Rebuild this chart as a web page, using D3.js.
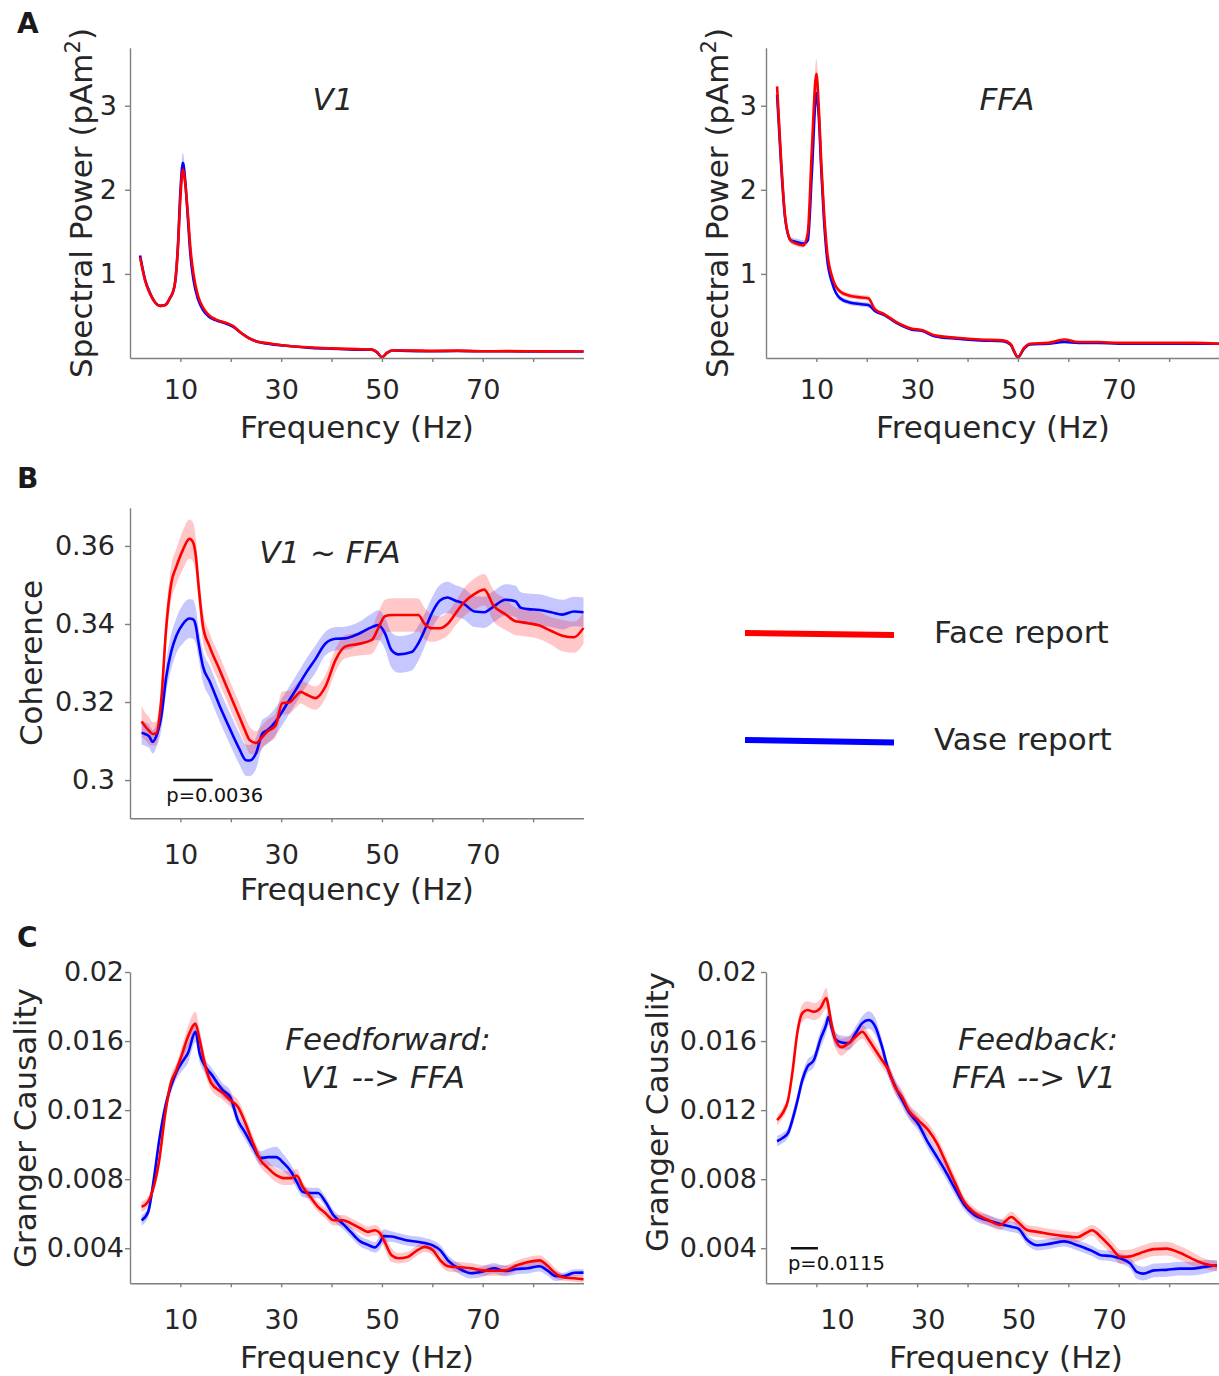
<!DOCTYPE html>
<html>
<head>
<meta charset="utf-8">
<script src="https://cdn.jsdelivr.net/npm/d3@7"></script>
<style>
  body { margin: 0; background: #fff; }
  svg { display: block; font-family: "DejaVu Sans", Verdana, sans-serif; }
  .axis path, .axis line { stroke: #7f7f7f; stroke-width: 1.4; }
  .axis text { fill: #262626; font-size: 27px; font-family: "DejaVu Sans", Verdana, sans-serif; }
</style>
</head>
<body>
<div id="chart"></div>
<script>
// ---- A: spectral power, V1 ----
const freqA1 = [2,3,4,5,6,7,8, 8.5,9,9.5,10,10.5,11,11.5,12, 12.6,13.5,14.5,15.5,17,19,20.5,22,23.5,25,
  28,32,36,40,45,48,49,50,51,52, 55,60,65,70,75,80,85,90];
const faceA1 = [1.20,0.92,0.76,0.66,0.62,0.63,0.72, 0.78,0.92,1.30,1.90,2.24,2.05,1.70,1.30,
  1.00,0.74,0.60,0.52,0.46,0.42,0.38,0.30,0.24,0.20, 0.17,0.14,0.125,0.115,0.105,0.10,0.07,0.01,0.06,0.09,
  0.09,0.085,0.088,0.08,0.082,0.08,0.077,0.077];
const vaseA1 = [1.22,0.93,0.77,0.66,0.62,0.63,0.72, 0.78,0.92,1.32,1.98,2.32,2.08,1.65,1.22,
  0.93,0.70,0.57,0.50,0.45,0.41,0.37,0.30,0.24,0.20, 0.165,0.14,0.12,0.11,0.10,0.10,0.07,0.01,0.06,0.09,
  0.085,0.08,0.083,0.08,0.08,0.078,0.077,0.077];
const faceSemA1 = [0.02,0.015,0.012,0.01,0.01,0.01,0.012, 0.015,0.02,0.04,0.06,0.08,0.07,0.05,0.04,
  0.03,0.02,0.015,0.012,0.01,0.01,0.01,0.008,0.008,0.007, 0.006,0.005,0.005,0.005,0.005,0.005,0.005,0.005,0.005,0.005,
  0.005,0.005,0.005,0.005,0.005,0.005,0.005,0.005];
const vaseSemA1 = [0.02,0.015,0.012,0.01,0.01,0.01,0.012, 0.015,0.02,0.05,0.09,0.12,0.09,0.06,0.04,
  0.03,0.02,0.015,0.012,0.01,0.01,0.01,0.008,0.008,0.007, 0.006,0.005,0.005,0.005,0.005,0.005,0.005,0.005,0.005,0.005,
  0.005,0.005,0.005,0.005,0.005,0.005,0.005,0.005];

// ---- A: spectral power, FFA ----
const freqA2 = [2.2,3,3.8,4.9,6,7.4,8.3,9.1,10,10.5, 11,11.5,12.1,13.2,14.7,16.6,18.9,20.3,21.6,23.5,
  25.8,28.8,31.1,33.4,37.9,42.5,47,48.5,50,51.2, 52.4,56,59.2,62,66,70,75,80,85,90];
const faceA2 = [3.23,2.35,1.68,1.40,1.36,1.34,1.49,2.48,3.38,2.95, 2.28,1.75,1.29,0.95,0.79,0.74,0.72,0.71,0.58,0.52,
  0.43,0.35,0.33,0.27,0.24,0.22,0.21,0.17,0.01,0.12, 0.17,0.18,0.22,0.19,0.19,0.18,0.18,0.18,0.18,0.17];
const vaseA2 = [3.13,2.30,1.66,1.40,1.38,1.36,1.40,2.20,3.15,2.85, 2.20,1.65,1.20,0.88,0.71,0.66,0.64,0.63,0.56,0.51,
  0.42,0.34,0.32,0.26,0.23,0.21,0.20,0.16,0.01,0.11, 0.16,0.17,0.19,0.18,0.18,0.17,0.17,0.17,0.17,0.17];
const faceSemA2 = [0.04,0.03,0.03,0.03,0.03,0.03,0.04,0.08,0.18,0.12, 0.08,0.05,0.04,0.03,0.03,0.03,0.03,0.03,0.02,0.02,
  0.015,0.012,0.01,0.01,0.01,0.01,0.01,0.01,0.01,0.01, 0.01,0.01,0.01,0.01,0.01,0.01,0.01,0.01,0.01,0.01];
const vaseSemA2 = [0.04,0.03,0.03,0.04,0.04,0.04,0.04,0.08,0.15,0.12, 0.08,0.05,0.04,0.03,0.03,0.03,0.03,0.03,0.02,0.02,
  0.015,0.012,0.01,0.01,0.01,0.01,0.01,0.01,0.01,0.01, 0.01,0.01,0.01,0.01,0.01,0.01,0.01,0.01,0.01,0.01];

// ---- B: coherence V1 ~ FFA ----
const freqB = [2.3,3.0,3.8,4.5,5.2,6.2,7.2,8.2,9.2,10.5, 11.8,12.5,13.1,13.5,14.5,15.8,17.8,19.7,21.7,23.0,
  23.7,25.0,26.3,27.3,28.9,30.2,31.6,32.9,33.9,34.9, 36.8,38.8,40.8,42.7,45.4,48.0,49.3,50.6,51.9,53.3,
  55.9,57.2,58.5,60.0,61.5,63.0,64.5,66.1,68.4,70.3, 72.2,74.5,76.5,77.5,79.0,81.3,83.6,85.8,88.1,90.0];
const faceB = [0.3150,0.3138,0.3126,0.3118,0.3120,0.3205,0.3393,0.3505,0.3547,0.3590,
  0.3618,0.3610,0.3570,0.3513,0.3393,0.3342,0.3282,0.3223,0.3162,0.3122,
  0.3103,0.3095,0.3111,0.3125,0.3140,0.3197,0.3199,0.3215,0.3226,0.3220,
  0.3210,0.3240,0.3308,0.3342,0.3349,0.3359,0.3390,0.3420,0.3423,0.3423,
  0.3423,0.3423,0.3400,0.3389,0.3389,0.3400,0.3425,0.3453,0.3477,0.3488,
  0.3446,0.3425,0.3407,0.3405,0.3402,0.3396,0.3382,0.3370,0.3366,0.3390];
const vaseB = [0.3121,0.3118,0.3112,0.3098,0.3112,0.3162,0.3265,0.3330,0.3370,0.3400,
  0.3414,0.3412,0.3393,0.3360,0.3290,0.3253,0.3190,0.3135,0.3080,0.3051,
  0.3050,0.3068,0.3120,0.3128,0.3150,0.3175,0.3205,0.3231,0.3253,0.3274,
  0.3310,0.3350,0.3362,0.3363,0.3375,0.3392,0.3397,0.3376,0.3333,0.3322,
  0.3328,0.3350,0.3385,0.3430,0.3460,0.3468,0.3460,0.3453,0.3432,0.3430,
  0.3445,0.3462,0.3458,0.3442,0.3438,0.3436,0.3430,0.3424,0.3432,0.3430];
const faceSemB = [0.004,0.0035,0.0035,0.003,0.003,0.0035,0.004,0.0045,0.0045,0.005,
  0.005,0.005,0.0045,0.004,0.004,0.0035,0.0035,0.0035,0.0035,0.0035,
  0.0035,0.003,0.003,0.003,0.003,0.003,0.003,0.003,0.003,0.003,
  0.003,0.003,0.003,0.003,0.003,0.0035,0.004,0.0042,0.0043,0.0043,
  0.0043,0.0042,0.004,0.0035,0.003,0.003,0.003,0.0035,0.004,0.004,
  0.004,0.004,0.0035,0.0035,0.0035,0.0035,0.0035,0.004,0.004,0.004];
const vaseSemB = [0.003,0.003,0.003,0.003,0.003,0.0035,0.004,0.0045,0.0045,0.005,
  0.005,0.005,0.0045,0.004,0.004,0.004,0.004,0.004,0.004,0.004,
  0.004,0.004,0.0035,0.0035,0.0035,0.0035,0.0035,0.0035,0.0035,0.0035,
  0.0035,0.003,0.003,0.003,0.003,0.0035,0.0038,0.004,0.0045,0.0047,
  0.0047,0.0045,0.0042,0.004,0.004,0.004,0.004,0.004,0.004,0.004,
  0.004,0.004,0.004,0.004,0.004,0.004,0.0038,0.0038,0.0038,0.0038];

// ---- C: Granger causality, feedforward V1 --> FFA ----
const freqC1 = [2.3,3.6,4.7,5.8,7.0,8.1,9.2,10.4,11.5,13.0, 13.8,15.0,16.1,18.4,19.9,21.4,22.9,24.4,25.9,27.4,
  29.0,30.5,32.0,33.1,34.3,35.8,37.3,38.8,40.4,42.3, 43.8,45.7,47.2,48.6,49.5,50.4,51.9,53.3,55.1,57.0,
  58.5,60.1,61.6,63.1,65.4,67.7,70.0,72.2,74.5,76.8, 79.0,81.3,82.8,84.4,85.9,88.2,90.0];
const faceC1 = [0.0064,0.0067,0.00755,0.0091,0.0118,0.01357,0.0143,0.0153,0.01625,0.0170,
  0.0161,0.0145,0.01357,0.0130,0.01258,0.0122,0.01125,0.0101,0.0091,0.00864,
  0.00823,0.00806,0.00806,0.0082,0.00755,0.00697,0.0064,0.00603,0.00562,0.00562,
  0.00545,0.00516,0.00495,0.00504,0.0049,0.00446,0.0036,0.00342,0.0035,0.00388,
  0.00408,0.00388,0.0033,0.00296,0.0029,0.00284,0.00272,0.0027,0.00272,0.00301,
  0.0032,0.0033,0.0030,0.00255,0.00232,0.00226,0.0022];
const vaseC1 = [0.00562,0.0061,0.00794,0.01026,0.0122,0.01335,0.0142,0.0148,0.0153,0.01654,
  0.0153,0.0145,0.0141,0.01316,0.01275,0.01142,0.01067,0.00987,0.00922,0.00928,
  0.00928,0.00893,0.00842,0.00784,0.00726,0.0072,0.0072,0.00668,0.00591,0.0054,
  0.00495,0.0044,0.0042,0.00405,0.0043,0.0047,0.00468,0.00458,0.00445,0.00438,
  0.0043,0.00417,0.00388,0.0033,0.0028,0.00255,0.00265,0.00284,0.00268,0.0028,
  0.00284,0.00296,0.00272,0.0024,0.00238,0.00258,0.00259];
const faceSemC1 = [0.0003,0.0003,0.0003,0.0003,0.0004,0.0004,0.0004,0.0005,0.0006,0.0007,
  0.0006,0.0005,0.0004,0.0004,0.0004,0.0004,0.0004,0.0004,0.0004,0.0004,
  0.0004,0.0004,0.0004,0.0004,0.0003,0.0003,0.0003,0.0003,0.0003,0.0003,
  0.0003,0.0003,0.0003,0.0003,0.0003,0.0004,0.0004,0.0003,0.0003,0.0003,
  0.0003,0.0003,0.0003,0.0003,0.0003,0.0003,0.0003,0.0003,0.0003,0.0003,
  0.0003,0.0003,0.0003,0.0003,0.0002,0.0002,0.0002];
const vaseSemC1 = [0.0003,0.0003,0.0003,0.0004,0.0004,0.0004,0.0004,0.0005,0.0006,0.0006,
  0.0005,0.0004,0.0004,0.0004,0.0004,0.0004,0.0004,0.0004,0.0004,0.0005,
  0.0006,0.0005,0.0004,0.0004,0.0003,0.0003,0.0003,0.0003,0.0003,0.0003,
  0.0003,0.0003,0.0003,0.0003,0.0004,0.0004,0.0003,0.0003,0.0003,0.0003,
  0.0003,0.0003,0.0003,0.0003,0.0003,0.0003,0.0003,0.0003,0.0003,0.0003,
  0.0003,0.0003,0.0003,0.0003,0.0002,0.0002,0.0002];

// ---- C: Granger causality, feedback FFA --> V1 ----
const freqC2 = [2.2,3.3,4.4,5.3,6.2,7.2,8.2,9.5,10.8,12.0, 12.4,13.0,13.8,15.0,16.4,17.8,19.1,20.4,21.7,23.0,
  24.3,25.6,27.0,28.3,30.2,32.2,33.9,35.5,37.5,39.4, 41.4,44.0,46.5,48.7,50.0,51.9,53.9,56.5,59.2,61.8,
  63.4,64.7,66.4,68.4,70.4,72.3,73.6,74.9,77.0,79.5, 82.0,84.5,87.0,89.5];
const faceC2 = [0.01142,0.01183,0.0126,0.01432,0.01646,0.01762,0.0178,0.0177,0.01791,0.01849,
  0.0180,0.0170,0.01606,0.01565,0.01588,0.01625,0.01654,0.01606,0.01548,0.0149,
  0.01432,0.01335,0.01277,0.0120,0.01142,0.01084,0.01009,0.0091,0.0078,0.00665,
  0.00605,0.00565,0.00535,0.00581,0.00552,0.00504,0.00495,0.00481,0.0047,0.00464,
  0.00487,0.00504,0.00467,0.00408,0.0035,0.00353,0.00365,0.00379,0.00395,0.00398,
  0.00375,0.0034,0.0031,0.00296];
const vaseC2 = [0.0102,0.01038,0.0107,0.0115,0.0125,0.01374,0.01451,0.0149,0.0161,0.0170,
  0.01741,0.0168,0.0161,0.01592,0.01588,0.01646,0.01704,0.01722,0.01683,0.0157,
  0.0143,0.0134,0.0126,0.0119,0.0112,0.0101,0.0093,0.00852,0.00746,0.00649,
  0.00591,0.00562,0.0054,0.00524,0.00515,0.00446,0.00417,0.00427,0.0044,0.00417,
  0.004,0.00385,0.0036,0.00355,0.0034,0.00311,0.00263,0.00253,0.00272,0.00275,
  0.00282,0.00282,0.00292,0.00301];
const faceSemC2 = [0.0003,0.0003,0.0003,0.0004,0.0004,0.0005,0.0005,0.0005,0.0005,0.0006,
  0.0005,0.0005,0.0005,0.0005,0.0004,0.0004,0.0004,0.0004,0.0004,0.0004,
  0.0004,0.0004,0.0004,0.0004,0.0004,0.0004,0.0004,0.0004,0.0004,0.0003,
  0.0003,0.0003,0.0003,0.0003,0.0003,0.0003,0.0003,0.0003,0.0003,0.0003,
  0.0003,0.0003,0.0004,0.0004,0.0004,0.0004,0.0004,0.0004,0.0004,0.0004,
  0.0004,0.0004,0.0003,0.0003];
const vaseSemC2 = [0.0003,0.0003,0.0003,0.0004,0.0004,0.0004,0.0004,0.0004,0.0005,0.0005,
  0.0005,0.0005,0.0004,0.0004,0.0004,0.0004,0.0004,0.0005,0.0005,0.0004,
  0.0004,0.0004,0.0004,0.0004,0.0004,0.0004,0.0004,0.0004,0.0004,0.0003,
  0.0003,0.0003,0.0003,0.0003,0.0003,0.0003,0.0003,0.0003,0.0003,0.0003,
  0.0003,0.0003,0.0003,0.0003,0.0003,0.0003,0.0004,0.0004,0.0004,0.0004,
  0.0004,0.0004,0.0004,0.0003];

// ticks and labels
const freqTicks = [10, 20, 30, 40, 50, 60, 70, 80];
const freqLabels = [10, 30, 50, 70];
const yTicksA = [1, 2, 3];
const yTicksB = [0.30, 0.32, 0.34, 0.36];
const yTicksC = [0.004, 0.008, 0.012, 0.016, 0.02];
const sigB = [8.6, 16.4], sigBLabel = 'p=0.0036';
const sigC2 = [4.95, 10.3], sigC2Label = 'p=0.0115';

const RED = '#ff0000', BLUE = '#0000ff';
const W = 1219, H = 1376;

const svg = d3.select('#chart').append('svg')
    .attr('width', W)
    .attr('height', H);

function rowsOf(freq, face, vase, faceSem, vaseSem) {
    return freq.map((f, i) => ({ f, face: face[i], vase: vase[i], fs: faceSem[i], vs: vaseSem[i] }));
}

// draw one panel; p holds layout
function drawPanel(p) {
    const g = svg.append('g').attr('transform', `translate(${p.left},0)`);
    const x = d3.scaleLinear().domain([0, 90]).range([0, 453.5]);
    const y = d3.scaleLinear().domain(p.yDomain).range([p.bottom, p.top]);

    g.append('clipPath').attr('id', 'clip-' + p.id)
        .append('rect')
        .attr('x', 0).attr('y', p.top)
        .attr('width', 460).attr('height', p.bottom - p.top + 1);

    const plot = g.append('g').attr('clip-path', `url(#clip-${p.id})`);
    const series = [
        { key: 'vase', sem: 'vs', color: BLUE },
        { key: 'face', sem: 'fs', color: RED }
    ];

    series.forEach(s => {
        plot.append('path')
            .datum(p.rows)
            .attr('fill', s.color)
            .attr('fill-opacity', 0.22)
            .attr('d', d3.area()
                .x(d => x(d.f))
                .y0(d => y(d[s.key] - d[s.sem]))
                .y1(d => y(d[s.key] + d[s.sem]))
                .curve(d3.curveMonotoneX));
    });
    series.forEach(s => {
        plot.append('path')
            .datum(p.rows)
            .attr('fill', 'none')
            .attr('stroke', s.color)
            .attr('stroke-width', 2.6)
            .attr('stroke-linejoin', 'round')
            .attr('d', d3.line()
                .x(d => x(d.f))
                .y(d => y(d[s.key]))
                .curve(d3.curveMonotoneX));
    });

    // x axis
    g.append('g')
        .attr('class', 'axis')
        .attr('transform', `translate(0,${p.bottom})`)
        .call(d3.axisBottom(x)
            .tickValues(freqTicks)
            .tickSize(4)
            .tickSizeOuter(0)
            .tickPadding(p.xPad)
            .tickFormat(d => (!p.labelRange && freqLabels.includes(d)) ? d : ''));

    // this panel's labels sit on their own spacing in the original
    if (p.labelRange) {
        const xl = d3.scaleLinear().domain([10, 70]).range(p.labelRange);
        const la = g.append('g')
            .attr('class', 'axis')
            .attr('transform', `translate(0,${p.bottom})`)
            .call(d3.axisBottom(xl)
                .tickValues(freqLabels)
                .tickSize(4)
                .tickPadding(p.xPad));
        la.select('.domain').remove();
        la.selectAll('line').remove();
    }

    // y axis
    g.append('g')
        .attr('class', 'axis')
        .call(d3.axisLeft(y)
            .tickValues(p.yTicks)
            .tickSize(5)
            .tickSizeOuter(0)
            .tickPadding(p.yPad)
            .tickFormat(d => String(d)));

    // axis titles
    g.append('text')
        .attr('x', p.xTitleX)
        .attr('y', p.bottom + p.xTitleDy)
        .attr('text-anchor', 'middle')
        .attr('font-size', 31)
        .attr('fill', '#262626')
        .text('Frequency (Hz)');

    const yt = g.append('text')
        .attr('transform', `translate(${p.yTitle[0]},${p.yTitle[1]}) rotate(-90)`)
        .attr('text-anchor', 'middle')
        .attr('font-size', 31)
        .attr('fill', '#262626');
    yt.append('tspan').text(p.yLabel);
    if (p.sup) {
        yt.append('tspan').attr('baseline-shift', 'super').attr('font-size', 21).text('2');
        yt.append('tspan').text(')');
    }

    // panel title (italic)
    p.title.forEach(t => {
        g.append('text')
            .attr('x', t[1])
            .attr('y', t[2])
            .attr('text-anchor', 'middle')
            .attr('font-size', 31)
            .attr('font-style', 'italic')
            .attr('fill', '#262626')
            .text(t[0]);
    });

    // significance bar
    if (p.sig) {
        g.append('line')
            .attr('x1', x(p.sig[0])).attr('x2', x(p.sig[1]))
            .attr('y1', y(p.sigY)).attr('y2', y(p.sigY))
            .attr('stroke', '#111').attr('stroke-width', 2.5);
        g.append('text')
            .attr('x', x(p.sig[0]) + p.sigDx)
            .attr('y', y(p.sigY) + 22)
            .attr('font-size', 19.5)
            .attr('fill', '#111')
            .text(p.sigLabel);
    }
}

drawPanel({
    id: 'a1', left: 130, top: 47.7, bottom: 358, yDomain: [0, 3.69], yTicks: yTicksA,
    rows: rowsOf(freqA1, faceA1, vaseA1, faceSemA1, vaseSemA1),
    xPad: 18, yPad: 8, xTitleX: 227, xTitleDy: 80, yTitle: [-38, 203],
    yLabel: 'Spectral Power (pAm', sup: true,
    title: [['V1', 203, 110]]
});
drawPanel({
    id: 'a2', left: 766, top: 47.7, bottom: 358, yDomain: [0, 3.69], yTicks: yTicksA,
    rows: rowsOf(freqA2, faceA2, vaseA2, faceSemA2, vaseSemA2),
    xPad: 18, yPad: 4, xTitleX: 227, xTitleDy: 80, yTitle: [-38, 203],
    yLabel: 'Spectral Power (pAm', sup: true,
    title: [['FFA', 241, 110]]
});
drawPanel({
    id: 'b', left: 130, top: 507.7, bottom: 818.3, yDomain: [0.2902, 0.3698], yTicks: yTicksB,
    rows: rowsOf(freqB, faceB, vaseB, faceSemB, vaseSemB),
    xPad: 23, yPad: 10, xTitleX: 227, xTitleDy: 82, yTitle: [-88, 663],
    yLabel: 'Coherence',
    title: [['V1 ~ FFA', 200, 563]],
    sig: sigB, sigY: 0.30, sigLabel: sigBLabel, sigDx: -7
});
drawPanel({
    id: 'c1', left: 130, top: 972, bottom: 1283.3, yDomain: [0.00197, 0.02], yTicks: yTicksC,
    rows: rowsOf(freqC1, faceC1, vaseC1, faceSemC1, vaseSemC1),
    xPad: 23, yPad: 1, xTitleX: 227, xTitleDy: 85, yTitle: [-94, 1128],
    yLabel: 'Granger Causality',
    title: [['Feedforward:', 258, 1050], ['V1 --> FFA', 253, 1088]]
});
drawPanel({
    id: 'c2', left: 766, top: 972, bottom: 1283.3, yDomain: [0.00197, 0.02], yTicks: yTicksC,
    rows: rowsOf(freqC2, faceC2, vaseC2, faceSemC2, vaseSemC2),
    xPad: 23, yPad: 4, xTitleX: 240, xTitleDy: 85, yTitle: [-98, 1112], labelRange: [71, 343],
    yLabel: 'Granger Causality',
    title: [['Feedback:', 272, 1050], ['FFA --> V1', 268, 1088]],
    sig: sigC2, sigY: 0.004, sigLabel: sigC2Label, sigDx: -3
});

// panel letters
[['A', 17, 33], ['B', 17, 488], ['C', 17, 947]].forEach(l => {
    svg.append('text')
        .attr('x', l[1]).attr('y', l[2])
        .attr('font-size', 28).attr('font-weight', 'bold')
        .attr('fill', '#1a1a1a')
        .text(l[0]);
});

// legend
const legend = svg.append('g');
[['Face report', RED, 633, 635, 643], ['Vase report', BLUE, 740, 742.5, 750]].forEach(l => {
    legend.append('line')
        .attr('x1', 745).attr('x2', 894)
        .attr('y1', l[2]).attr('y2', l[3])
        .attr('stroke', l[1]).attr('stroke-width', 6);
    legend.append('text')
        .attr('x', 934).attr('y', l[4])
        .attr('font-size', 31).attr('fill', '#262626')
        .text(l[0]);
});
</script>
</body>
</html>
